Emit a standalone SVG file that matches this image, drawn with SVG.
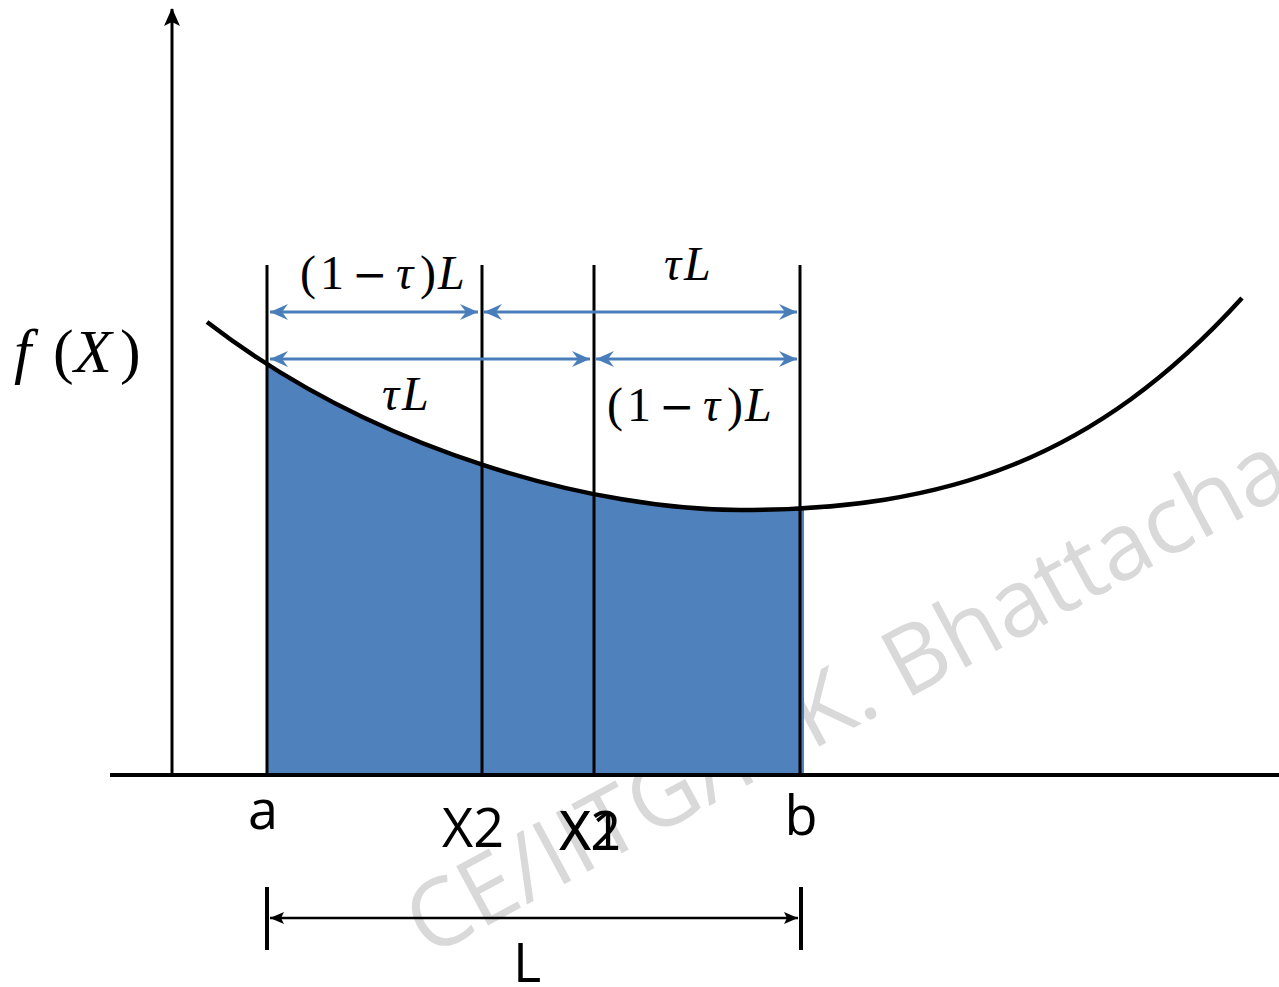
<svg xmlns="http://www.w3.org/2000/svg" width="1279" height="987" viewBox="0 0 1279 987">
<style>
.ax{stroke:#000;stroke-width:4;fill:none}
.vl{stroke:#000;stroke-width:3;fill:none}
.curve{stroke:#000;stroke-width:4.5;fill:none}
.ba{stroke:#4a7ebb;stroke-width:3;fill:none;marker-start:url(#bh);marker-end:url(#bh)}
.math{font-family:"Liberation Serif","DejaVu Serif",serif;font-size:48px;fill:#000}
.it{font-style:italic}
.mn{font-family:"DejaVu Serif",serif;font-size:42px}
.lab{font-family:"Open Sans","Liberation Sans",sans-serif;font-size:54px;fill:#000;text-anchor:middle}
.wm{font-family:"Open Sans","Liberation Sans",sans-serif;font-size:94px;fill:#d9d9d9}
</style>
<defs>
<marker id="bh" markerUnits="userSpaceOnUse" markerWidth="20" markerHeight="18" viewBox="0 0 20 18" refX="19" refY="9" orient="auto-start-reverse">
<path d="M1,1 L19,9 L1,17 L7,9 z" fill="#4a7ebb"/>
</marker>
<marker id="kh" markerUnits="userSpaceOnUse" markerWidth="14" markerHeight="12" viewBox="0 0 14 12" refX="14" refY="6" orient="auto-start-reverse">
<path d="M0,0 L14,6 L0,12 L3,6 z" fill="#000"/>
</marker>
<marker id="yh" markerUnits="userSpaceOnUse" markerWidth="18" markerHeight="16" viewBox="0 0 18 16" refX="17" refY="8" orient="auto">
<path d="M0,0 L18,8 L0,16 L4,8 z" fill="#000"/>
</marker>
<clipPath id="fillclip"><rect x="267" y="250" width="537" height="525"/></clipPath>
</defs>

<g id="watermark">
<text class="wm" x="428" y="958" transform="rotate(-28.4 428 958)">CE/IITG/R.K. Bhattacharjya</text>
</g>

<g id="area">
<path clip-path="url(#fillclip)" fill="#4f81bd" d="M207,322 C380,455 600,510 740,510 C946,510 1095,460 1242,298 L1242,775 L207,775 z"/>
</g>

<g id="axes">
<line class="ax" x1="110" y1="775" x2="1279" y2="775"/>
<line x1="172" y1="775" x2="172" y2="9" stroke="#000" stroke-width="3" marker-end="url(#yh)"/>
</g>

<g id="curve">
<path class="curve" d="M207,322 C380,455 600,510 740,510 C946,510 1095,460 1242,298"/>
</g>

<g id="verticals">
<line id="line-a" class="vl" x1="267" y1="265" x2="267" y2="775"/>
<line id="line-x2" class="vl" x1="482" y1="265" x2="482" y2="775"/>
<line id="line-x1" class="vl" x1="594" y1="265" x2="594" y2="775"/>
<line id="line-b" class="vl" x1="800" y1="265" x2="800" y2="775"/>
</g>

<g id="connectors">
<line class="ba" x1="270" y1="312" x2="478" y2="312"/>
<line class="ba" x1="484" y1="312" x2="797" y2="312"/>
<line class="ba" x1="270" y1="359" x2="590" y2="359"/>
<line class="ba" x1="596" y1="359" x2="797" y2="359"/>
<line x1="270" y1="918" x2="798" y2="918" stroke="#000" stroke-width="2.5" marker-start="url(#kh)" marker-end="url(#kh)"/>
</g>

<g id="L-bracket">
<line class="ax" x1="267" y1="887" x2="267" y2="950"/>
<line class="ax" x1="801" y1="887" x2="801" y2="950"/>
</g>

<g id="math-labels">
<text class="math" y="289"><tspan x="300">(</tspan><tspan x="320">1</tspan><tspan x="352" class="mn">−</tspan><tspan x="396" class="it">τ</tspan><tspan x="420">)</tspan><tspan x="438" class="it">L</tspan></text>
<text class="math" y="280"><tspan x="664" class="it">τ</tspan><tspan x="684" class="it">L</tspan></text>
<text class="math" y="410"><tspan x="382" class="it">τ</tspan><tspan x="402" class="it">L</tspan></text>
<text class="math" y="421"><tspan x="607">(</tspan><tspan x="627">1</tspan><tspan x="659" class="mn">−</tspan><tspan x="703" class="it">τ</tspan><tspan x="727">)</tspan><tspan x="745" class="it">L</tspan></text>
</g>

<g id="fx-label">
<text font-family="Liberation Serif, DejaVu Serif, serif" font-size="62" fill="#000" y="372"><tspan x="14" font-style="italic">f</tspan><tspan x="53">(</tspan><tspan x="74" font-style="italic">X</tspan><tspan x="120">)</tspan></text>
</g>

<g id="axis-labels">
<text class="lab" x="263" y="829">a</text>
<text class="lab" x="473" y="847">X2</text>
<text class="lab" x="590" y="850">X2</text>
<text class="lab" x="591" y="850">X1</text>
<text class="lab" x="801" y="835">b</text>
<text class="lab" x="527" y="982">L</text>
</g>
</svg>
